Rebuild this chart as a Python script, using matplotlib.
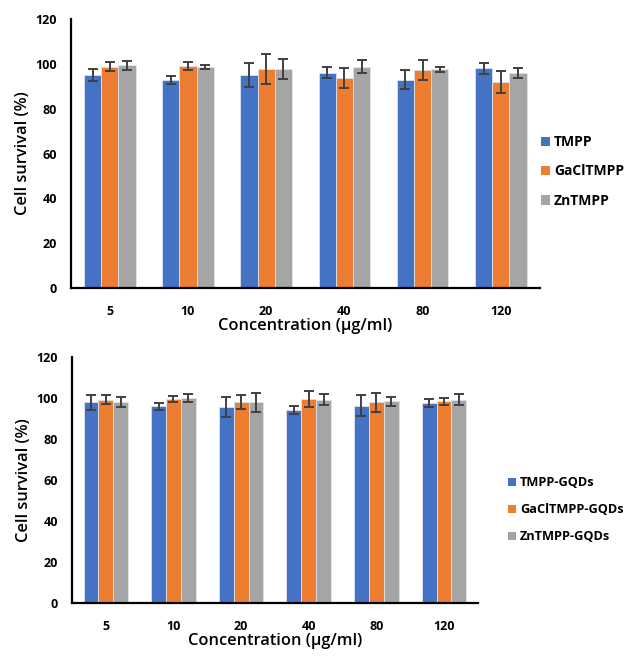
import matplotlib
matplotlib.use("Agg")
import matplotlib.pyplot as plt
import numpy as np
from matplotlib.patches import Patch

plt.rcParams["font.family"] = ["Open Sans", "DejaVu Sans"]

concentrations = ["5", "10", "20", "40", "80", "120"]
colors = ["#4472C4", "#ED7D31", "#A5A5A5"]

# top panel - free porphyrins
top_labels = ["TMPP", "GaClTMPP", "ZnTMPP"]
top_means = [
    [95.1, 93.0, 95.1, 96.0, 93.0, 98.1],
    [98.8, 99.1, 97.6, 93.6, 97.3, 92.0],
    [99.4, 98.7, 97.6, 98.8, 97.6, 96.0],
]
top_err = [
    [2.6, 1.8, 5.5, 2.4, 4.1, 2.4],
    [2.1, 1.8, 6.6, 4.4, 4.4, 4.8],
    [2.1, 0.8, 4.4, 3.0, 1.0, 2.1],
]

# bottom panel - GQD conjugates
bot_labels = ["TMPP-GQDs", "GaClTMPP-GQDs", "ZnTMPP-GQDs"]
bot_means = [
    [97.9, 95.9, 95.6, 94.0, 96.2, 97.7],
    [99.2, 99.5, 98.0, 99.5, 97.9, 98.4],
    [97.9, 100.0, 98.0, 99.2, 98.4, 99.2],
]
bot_err = [
    [3.8, 1.5, 5.0, 2.0, 5.1, 2.0],
    [2.2, 1.5, 3.5, 3.7, 4.5, 1.6],
    [2.5, 2.0, 4.6, 2.8, 2.1, 2.8],
]


def draw_panel(ax, means, errs, labels, legend_pos, legend_size):
    x = np.arange(len(concentrations))
    w = 0.22
    for i in range(3):
        ax.bar(x + (i - 1) * w, means[i], w, color=colors[i],
               edgecolor="#dde4f0", linewidth=0.6,
               yerr=errs[i], capsize=3.5,
               error_kw=dict(ecolor="#404040", elinewidth=1.4, capthick=1.4))
    ax.set_xlim(-0.5, len(concentrations) - 0.5)
    ax.set_ylim(0, 120)
    ax.set_yticks(range(0, 121, 20))
    ax.set_xticks(x)
    ax.set_xticklabels(concentrations)
    for s in ["top", "right"]:
        ax.spines[s].set_visible(False)
    for s in ["left", "bottom"]:
        ax.spines[s].set_linewidth(1.6)
        ax.spines[s].set_color("black")
    ax.tick_params(axis="both", length=0, labelsize=9)
    ax.tick_params(axis="x", pad=12)
    ax.tick_params(axis="y", pad=10)
    for t in ax.get_xticklabels() + ax.get_yticklabels():
        t.set_fontweight("bold")
    ax.set_xlabel("Concentration (µg/ml)", fontsize=11.8, fontweight="semibold", labelpad=0)
    ax.set_ylabel("Cell survival (%)", fontsize=11.8, fontweight="semibold", labelpad=3)

    handles = [Patch(facecolor=c, edgecolor="none") for c in colors]
    ax.figure.legend(handles, labels, loc="center left", bbox_to_anchor=legend_pos,
                     frameon=False, handlelength=0.65, handleheight=0.65,
                     handletextpad=0.3, labelspacing=1.1,
                     prop=dict(weight="bold", size=legend_size))


fig = plt.figure(figsize=(6.34, 6.57), dpi=100)

ax1 = fig.add_axes([0.1115, 0.5616, 0.740, 0.4094])
draw_panel(ax1, top_means, top_err, top_labels, (0.833, 0.739), 10)

ax2 = fig.add_axes([0.1136, 0.0817, 0.640, 0.375])
draw_panel(ax2, bot_means, bot_err, bot_labels, (0.783, 0.224), 9.2)

fig.savefig("out.png", dpi=100)
